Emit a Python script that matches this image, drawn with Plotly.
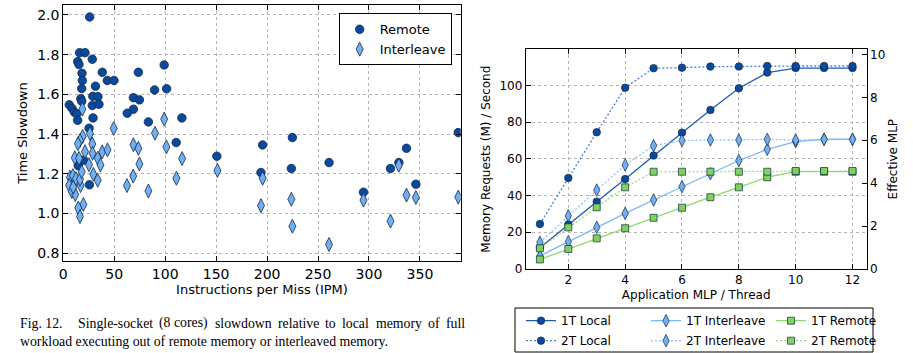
import plotly.graph_objects as go

# ---------------- Left chart data (IPM vs slowdown) ----------------
remote_ipm = [25.9, 16.0, 21.3, 14.2, 15.4, 28.5, 18.4, 18.7, 38.3, 43.2, 49.8, 31.6, 18.1,
              17.2, 18.1, 29.0, 34.0, 28.5, 35.0, 5.9, 8.7, 11.0, 13.2, 14.1, 29.2, 25.3,
              68.8, 68.8, 74.7, 62.8, 73.7, 99.0, 89.6, 101.4, 83.5, 116.4, 110.8, 150.7,
              14.7, 20.0, 25.6, 195.6, 224.8, 336.8, 387.6, 194.0, 223.8, 260.8, 294.6,
              321.1, 329.3, 346.0]
remote_slow = [1.99, 1.81, 1.81, 1.765, 1.75, 1.777, 1.706, 1.67, 1.711, 1.67, 1.67, 1.641, 1.629,
               1.578, 1.565, 1.59, 1.588, 1.544, 1.55, 1.547, 1.528, 1.51, 1.502, 1.469, 1.481, 1.429,
               1.583, 1.525, 1.572, 1.505, 1.711, 1.748, 1.622, 1.628, 1.461, 1.481, 1.357, 1.288,
               1.24, 1.268, 1.144, 1.345, 1.382, 1.328, 1.407, 1.206, 1.226, 1.256, 1.107,
               1.226, 1.256, 1.147]

inter_ipm = [18.7, 49.5, 19.0, 16.4, 14.4, 26.2, 28.5, 21.3, 38.2, 43.4, 68.8, 73.7, 90.0, 99.0,
             101.2, 116.6, 11.3, 15.5, 25.2, 33.8, 28.7, 36.5, 6.6, 9.5, 12.5, 5.7, 8.4, 11.8,
             17.0, 16.4, 18.1, 29.5, 33.8, 19.7, 14.7, 16.4, 62.5, 68.6, 74.7, 83.5, 111.0,
             151.3, 195.6, 194.0, 223.8, 224.8, 260.8, 294.6, 321.1, 329.3, 336.8, 346.0,
             387.6, 9.8]
inter_slow = [1.525, 1.428, 1.388, 1.367, 1.351, 1.402, 1.35, 1.311, 1.31, 1.32, 1.346, 1.328, 1.404, 1.475,
              1.335, 1.276, 1.28, 1.277, 1.245, 1.278, 1.303, 1.244, 1.182, 1.19, 1.175, 1.141, 1.11, 1.095,
              1.14, 1.172, 1.21, 1.197, 1.167, 1.045, 1.027, 0.984, 1.14, 1.188, 1.249, 1.113, 1.177,
              1.216, 1.177, 1.039, 1.071, 0.935, 0.843, 1.067, 0.961, 1.243, 1.092, 1.08,
              1.082, 1.132]

# ---------------- Right chart data (MLP vs requests) ----------------
mlp = [1, 2, 3, 4, 5, 6, 7, 8, 9, 10, 11, 12]
local_1t = [11.6, 24.3, 36.7, 49.0, 61.8, 74.3, 86.6, 98.5, 107.0, 109.5, 109.5, 109.5]
local_2t = [24.5, 49.6, 74.5, 98.8, 109.4, 109.7, 110.3, 110.3, 110.6, 110.6, 110.6, 110.6]
inter_1t = [7.1, 14.9, 22.7, 30.3, 37.6, 44.9, 51.9, 59.1, 65.2, 69.4, 70.7, 70.7]
inter_2t = [14.5, 29.0, 43.0, 56.7, 67.2, 70.0, 70.3, 70.3, 70.6, 70.3, 70.6, 70.6]
remote_1t = [5.2, 10.9, 16.7, 22.2, 27.9, 33.4, 39.1, 44.5, 50.0, 53.0, 53.0, 53.0]
remote_2t = [11.3, 22.7, 33.6, 44.5, 53.0, 53.0, 53.0, 53.0, 53.0, 53.4, 53.4, 53.4]

caption_label = "Fig. 12."
caption_line1 = "Single-socket (8 cores) slowdown relative to local memory of full"
caption_line2 = "workload executing out of remote memory or interleaved memory."

DARK = "#0a4a9e"
LIGHT = "#70b0f2"
GREEN = "#7fd35c"
EDGE = "#142848"

fig = go.Figure()

fig.add_trace(go.Scatter(
    x=remote_ipm, y=remote_slow, mode="markers", name="Remote",
    marker=dict(symbol="circle", size=8.5, color=DARK, line=dict(color=EDGE, width=0.8)),
    xaxis="x", yaxis="y", legend="legend"))
fig.add_trace(go.Scatter(
    x=inter_ipm, y=inter_slow, mode="markers", name="Interleave",
    marker=dict(symbol="diamond-tall", size=10, color=LIGHT, line=dict(color=EDGE, width=0.8)),
    xaxis="x", yaxis="y", legend="legend"))

right_series = [
    ("1T Local", local_1t, "circle", 7.5, DARK, "#1f5cb0", "solid", "legend2"),
    ("1T Interleave", inter_1t, "diamond-tall", 9, LIGHT, "#7ab7f5", "solid", "legend2"),
    ("1T Remote", remote_1t, "square", 7, GREEN, "#8ed96d", "solid", "legend2"),
    ("2T Local", local_2t, "circle", 7.5, DARK, "#3f82d8", "2px,2px", "legend3"),
    ("2T Interleave", inter_2t, "diamond-tall", 9, LIGHT, "#8fc3f7", "2px,2px", "legend3"),
    ("2T Remote", remote_2t, "square", 7, GREEN, "#98de7a", "2px,2px", "legend3"),
]
for name, vals, sym, sz, fill, lc, dash, leg in right_series:
    fig.add_trace(go.Scatter(
        x=mlp, y=vals, mode="lines+markers", name=name,
        line=dict(color=lc, width=1.3, dash=dash),
        marker=dict(symbol=sym, size=sz, color=fill, line=dict(color=EDGE, width=0.7)),
        xaxis="x2", yaxis="y2", legend=leg))

# helper (empty) trace so the secondary right axis is created
fig.add_trace(go.Scatter(x=[], y=[], xaxis="x2", yaxis="y3", showlegend=False,
                         hoverinfo="skip"))

grid = dict(showgrid=True, gridcolor="#b4b4b4", griddash="dot", gridwidth=1, zeroline=False)
common = dict(ticks="inside", ticklen=5, tickcolor="black", showline=True, linecolor="black",
              linewidth=1, automargin=False)

row_legend = dict(xanchor="left", yanchor="middle", orientation="h",
                  entrywidth=80, entrywidthmode="pixels",
                  borderwidth=0, bgcolor="rgba(0,0,0,0)", font=dict(size=12))

fig.update_layout(
    width=913, height=353, margin=dict(l=0, r=0, t=0, b=0, autoexpand=False),
    paper_bgcolor="white", plot_bgcolor="white",
    font=dict(family="DejaVu Sans", color="black"),
    xaxis=dict(domain=[0.0693, 0.5046], range=[0, 390], tick0=0, dtick=50, anchor="y",
               mirror="ticks", tickfont=dict(size=14),
               title=dict(text="Instructions per Miss (IPM)", font=dict(size=13), standoff=4),
               **grid, **common),
    yaxis=dict(domain=[0.2606, 0.9858], range=[0.76, 2.05], tick0=0.8, dtick=0.2, anchor="x",
               mirror="ticks", tickfont=dict(size=14), tickformat=".1f",
               title=dict(text="Time Slowdown", font=dict(size=13), standoff=6),
               **grid, **common),
    xaxis2=dict(domain=[0.5758, 0.9493], range=[0.5, 12.5], tick0=2, dtick=2, anchor="y2",
                mirror="ticks", tickfont=dict(size=12),
                title=dict(text="Application MLP / Thread", font=dict(size=12), standoff=4),
                **grid, **common),
    yaxis2=dict(domain=[0.2380, 0.8603], range=[0, 119.7], tick0=0, dtick=20, anchor="x2",
                tickfont=dict(size=12),
                title=dict(text="Memory Requests (M) / Second", font=dict(size=12), standoff=6),
                **grid, **common),
    yaxis3=dict(overlaying="y2", side="right", anchor="x2", range=[0, 10.24], tick0=0, dtick=2,
                tickfont=dict(size=12), showgrid=False, zeroline=False,
                title=dict(text="Effective MLP", font=dict(size=12), standoff=4),
                **common),
    legend=dict(x=0.4947, xanchor="right", y=0.9623, yanchor="top",
                bordercolor="black", borderwidth=1, bgcolor="white",
                font=dict(size=13), tracegroupgap=2),
    legend2=dict(x=521 / 913, y=1 - 320.7 / 353, **row_legend),
    legend3=dict(x=521 / 913, y=1 - 340.7 / 353, **row_legend),
)

# frame around the two-row legend of the right chart
fig.add_shape(type="rect", xref="paper", yref="paper",
              x0=515 / 913, x1=873 / 913, y0=1 - 352 / 353, y1=1 - 308 / 353,
              line=dict(color="black", width=1), fillcolor="rgba(0,0,0,0)", layer="below")

# caption (first line justified between x=77 and x=464 px)
cap_size = 13.8
cap_font = dict(family="Liberation Serif", size=cap_size, color="black")
times_w = {"S": 556, "i": 278, "n": 500, "g": 500, "l": 278, "e": 444, "-": 333, "s": 389,
           "o": 500, "c": 444, "k": 500, "t": 278, "(": 333, "8": 500, ")": 333, "r": 333,
           "w": 722, "d": 500, "a": 444, "v": 500, "y": 500, "m": 778, "f": 333, "u": 500}
words = caption_line1.replace("(8 cores)", "(8\u00a0cores)").split(" ")
widths = [sum(times_w.get(ch, 250) for ch in w.replace("\u00a0", " ")) * cap_size / 1000 for w in words]
x_left, x_right = 77.0, 464.0
gap = (x_right - x_left - sum(widths)) / (len(words) - 1)
xpos = x_left
y1 = 1 - 323 / 353
fig.add_annotation(text=caption_label, xref="paper", yref="paper", x=18 / 913, y=y1,
                   xanchor="left", yanchor="middle", showarrow=False, font=cap_font)
for w, wd in zip(words, widths):
    fig.add_annotation(text=w, xref="paper", yref="paper", x=xpos / 913, y=y1,
                       xanchor="left", yanchor="middle", showarrow=False, font=cap_font,
                       borderpad=0)
    xpos += wd + gap
fig.add_annotation(text=caption_line2, xref="paper", yref="paper", x=18 / 913, y=1 - 341 / 353,
                   xanchor="left", yanchor="middle", showarrow=False, font=cap_font)

fig.write_html("out.html")
